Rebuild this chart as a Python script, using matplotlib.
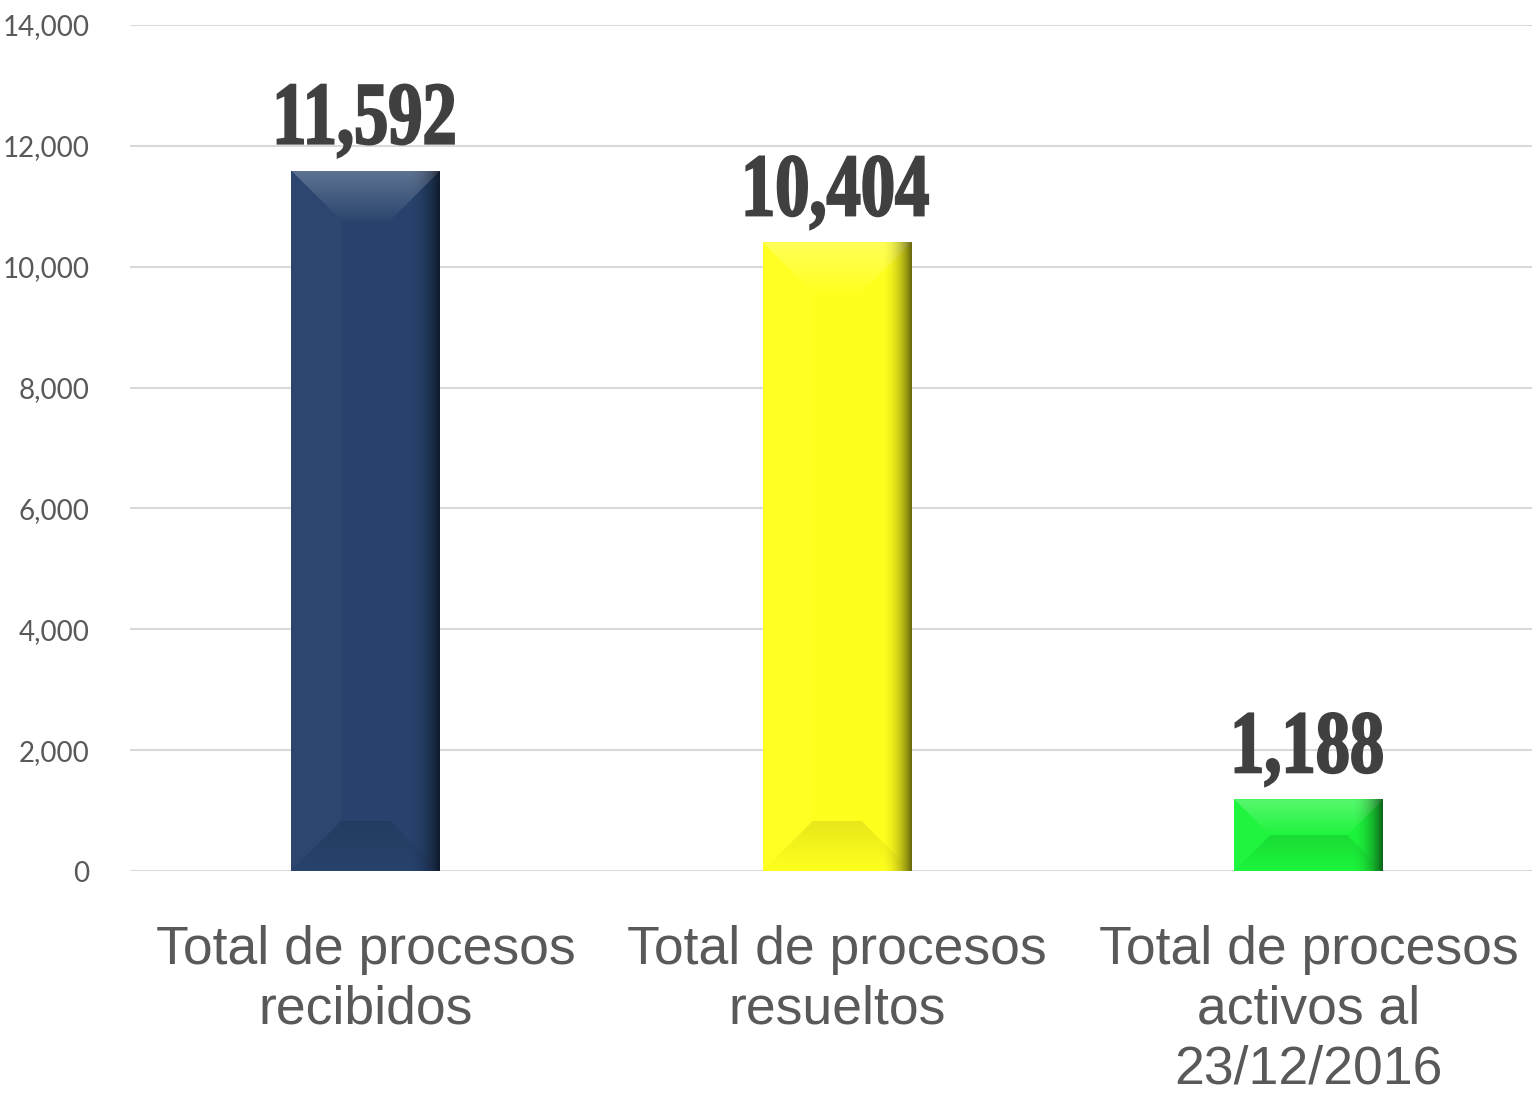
import numpy as np
import matplotlib.pyplot as plt
import matplotlib.transforms as mtransforms
from matplotlib.patches import Polygon, PathPatch
from matplotlib.textpath import TextPath
from matplotlib.font_manager import FontProperties

# datos del grafico
categories = ['Total de procesos\nrecibidos',
              'Total de procesos\nresueltos',
              'Total de procesos\nactivos al\n23/12/2016']
values = [11592, 10404, 1188]
value_labels = ['11,592', '10,404', '1,188']
colors = ['#27426C', '#FFFF1E', '#1CF43B']
y_ticks = [0, 2000, 4000, 6000, 8000, 10000, 12000, 14000]
y_tick_labels = ['0', '2,000', '4,000', '6,000', '8,000', '10,000', '12,000', '14,000']

W, H = 1532, 1094
fig = plt.figure(figsize=(W / 100, H / 100), dpi=100)
ax = fig.add_axes([130 / W, 1 - 871 / H, 1414.5 / W, 846 / H])

x = np.arange(len(values))
width = 0.316
ax.bar(x, values, width=width, color=colors, zorder=2)

ax.set_xlim(-0.5, 2.5)
ax.set_ylim(0, 14000)
ax.set_yticks(y_ticks, y_tick_labels)
ax.set_xticks(x, categories)
ax.grid(axis='y', color='#D9D9D9', linewidth=1.5, zorder=0)
ax.set_axisbelow(True)
for s in ax.spines.values():
    s.set_visible(False)

ax.tick_params(axis='y', length=0, pad=29, labelsize=20, labelcolor='#595959')
for lbl in ax.get_yticklabels():
    lbl.set_family('Lato')
ax.tick_params(axis='x', length=0, pad=39, labelsize=38.5, labelcolor='#595959')
for lbl in ax.get_xticklabels():
    lbl.set_family('Liberation Sans')
    lbl.set_linespacing(1.25)

# efecto biselado de las barras
px_x = ax.transData.transform((1, 0))[0] - ax.transData.transform((0, 0))[0]
px_y = (ax.transData.transform((0, 1000))[1] - ax.transData.transform((0, 0))[1]) / 1000


def gradient_fill(poly, extent, rgb, a0, a1, vertical=True, power=1.0):
    n = 64
    ramp = a0 + (a1 - a0) * np.linspace(0, 1, n) ** power
    img = np.zeros((n, 1, 4)) if vertical else np.zeros((1, n, 4))
    img[..., :3] = rgb
    if vertical:
        img[:, 0, 3] = ramp
    else:
        img[0, :, 3] = ramp
    im = ax.imshow(img, extent=extent, aspect='auto', origin='upper',
                   interpolation='bilinear', zorder=3)
    im.set_clip_path(poly)


for xi, v in zip(x, values):
    x0, x1 = xi - width / 2, xi + width / 2
    b = min(50, v * px_y / 2, width * px_x / 2)
    bx, by = b / px_x, b / px_y
    top = Polygon([(x0, v), (x1, v), (x1 - bx, v - by), (x0 + bx, v - by)],
                  closed=True, fc='none', ec='none', zorder=3)
    bot = Polygon([(x0, 0), (x1, 0), (x1 - bx, by), (x0 + bx, by)],
                  closed=True, fc='none', ec='none', zorder=3)
    left = Polygon([(x0, 0), (x0 + bx, by), (x0 + bx, v - by), (x0, v)],
                   closed=True, fc='white', ec='none', alpha=0.025, zorder=3)
    whole = Polygon([(x0, 0), (x1, 0), (x1, v), (x0, v)],
                    closed=True, fc='none', ec='none', zorder=3)
    for p in (top, bot, left, whole):
        ax.add_patch(p)
    gradient_fill(top, (x0, x1, v - by, v), (1, 1, 1), 0.26, 0.02)
    gradient_fill(bot, (x0, x1, 0, by), (0, 0, 0), 0.10, 0.0)
    # oscurecimiento hacia el borde derecho
    gradient_fill(whole, (x1 - 0.22 * width, x1, 0, v), (0, 0, 0), 0.0, 0.6,
                  vertical=False, power=2.2)

ax.set_xlim(-0.5, 2.5)
ax.set_ylim(0, 14000)

# etiquetas de valor (serif negrita condensada)
fp = FontProperties(family='Liberation Serif', weight='bold')
digit_h = TextPath((0, 0), '0', size=1, prop=fp).get_extents().height
sy = 60 / digit_h
sx = sy * 0.77
for xi, v, s in zip(x, values, value_labels):
    tp = TextPath((0, 0), s, size=1, prop=fp)
    bb = tp.get_extents()
    cx = (bb.x0 + bb.x1) / 2
    tr = (mtransforms.Affine2D().translate(-cx, 0).scale(sx, sy).translate(0, 27)
          + mtransforms.ScaledTranslation(xi, v, ax.transData))
    ax.add_artist(PathPatch(tp, transform=tr, fc='#404040', ec='#404040',
                            lw=1.6, zorder=4, clip_on=False))

fig.savefig('out.png', dpi=100)
